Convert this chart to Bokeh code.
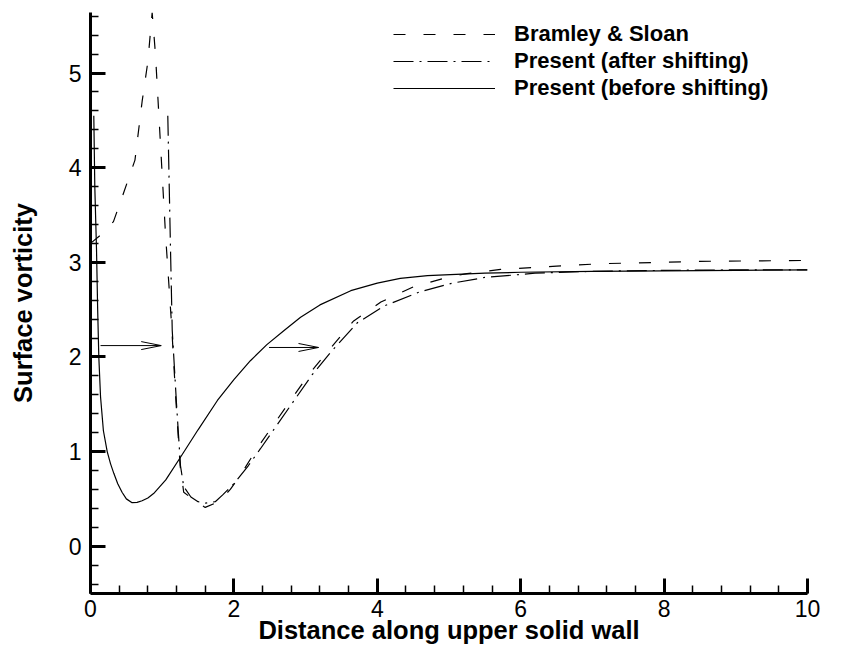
from bokeh.plotting import figure
from bokeh.models import Range1d, SingleIntervalTicker, Legend, LegendItem
from bokeh.embed import file_html
from bokeh.resources import INLINE

# ---- data ----
bramley_x = [0.0, 0.16, 0.32, 0.46, 0.62, 0.72, 0.80, 0.86, 0.906, 0.976, 1.046, 1.13, 1.19, 1.25,
             1.30, 1.44, 1.60, 1.79, 1.95, 2.1, 2.32, 2.55, 2.79, 3.04, 3.30, 3.67, 4.05, 4.5,
             5.0, 5.25, 5.72, 6.5, 7.11, 8.5, 10.0]
bramley_y = [3.2, 3.30, 3.43, 3.73, 4.08, 4.70, 5.12, 5.64, 5.2, 4.25, 3.3, 2.35, 1.55, 0.85,
             0.57, 0.49, 0.41, 0.47, 0.6, 0.76, 1.03, 1.28, 1.54, 1.81, 2.05, 2.38, 2.58, 2.74,
             2.845, 2.88, 2.925, 2.96, 2.985, 3.01, 3.02]

after_x = [1.078, 1.116, 1.14, 1.20, 1.255, 1.30, 1.40, 1.50, 1.60, 1.74, 1.84, 2.0, 2.2, 2.37,
           2.60, 2.84, 3.09, 3.35, 3.72, 4.1, 4.6, 5.05, 5.5, 6.2, 7.0, 8.0, 9.0, 10.0]
after_y = [4.55, 3.13, 2.28, 1.5, 0.85, 0.63, 0.52, 0.47, 0.455, 0.47, 0.54, 0.66, 0.85, 1.03,
           1.28, 1.54, 1.81, 2.05, 2.36, 2.54, 2.69, 2.78, 2.84, 2.885, 2.905, 2.915, 2.92, 2.92]

before_x = [0.046, 0.06, 0.084, 0.10, 0.116, 0.14, 0.18, 0.233, 0.28, 0.325, 0.38, 0.44, 0.50,
            0.58, 0.65, 0.72, 0.80, 0.88, 1.05, 1.255, 1.5, 1.77, 2.0, 2.23, 2.46, 2.7, 2.93,
            3.2, 3.63, 4.0, 4.32, 4.7, 5.02, 5.5, 6.0, 7.0, 8.0, 9.0, 10.0]
before_y = [4.55, 3.8, 3.13, 2.5, 2.0, 1.58, 1.22, 1.0, 0.87, 0.77, 0.66, 0.57, 0.50,
            0.46, 0.463, 0.48, 0.51, 0.556, 0.70, 0.94, 1.23, 1.54, 1.76, 1.96, 2.13, 2.28, 2.42,
            2.55, 2.70, 2.78, 2.83, 2.86, 2.87, 2.885, 2.895, 2.905, 2.91, 2.915, 2.92]

arrow_x0 = [0.14, 2.49]
arrow_x1 = [0.986, 3.18]
arrow_y = [2.12, 2.10]

series_labels = ["Bramley & Sloan", "Present (after shifting)", "Present (before shifting)"]

# ---- layout ----
X0, X1 = 0.0, 10.0
Y0, Y1 = -0.5, 5.64
W, H = 829, 650
ML, MR, MT, MB = 90, 22, 12, 57
FW, FH = W - ML - MR, H - MT - MB

FONT = "Liberation Sans"

p = figure(width=W, height=H, output_backend="svg", toolbar_location=None,
           x_range=Range1d(X0, X1), y_range=Range1d(Y0, Y1),
           min_border_left=ML, min_border_right=MR, min_border_top=MT, min_border_bottom=MB)
p.outline_line_color = None
p.grid.visible = False

p.xaxis.ticker = SingleIntervalTicker(interval=2, num_minor_ticks=5)
p.yaxis.ticker = SingleIntervalTicker(interval=1, num_minor_ticks=5)
for ax in (p.xaxis[0], p.yaxis[0]):
    ax.axis_line_width = 3
    ax.axis_line_color = "black"
    ax.major_tick_in = 15
    ax.major_tick_out = 0
    ax.minor_tick_in = 8
    ax.minor_tick_out = 0
    ax.major_tick_line_width = 3
    ax.minor_tick_line_width = 1.5
    ax.major_tick_line_color = "black"
    ax.minor_tick_line_color = "black"
    ax.major_label_text_font = FONT
    ax.major_label_text_font_size = "23px"
    ax.major_label_text_color = "black"
    ax.axis_label_text_font = FONT
    ax.axis_label_text_font_size = "25.5px"
    ax.axis_label_text_font_style = "bold"
    ax.axis_label_text_color = "black"

p.xaxis.axis_label = "Distance along upper solid wall"
p.yaxis.axis_label = "Surface vorticity"
p.xaxis.major_label_standoff = 6
p.xaxis.axis_label_standoff = -4
p.yaxis.major_label_standoff = 9
p.yaxis.axis_label_standoff = 29

r1 = p.line(bramley_x, bramley_y, line_color="black", line_width=1.2, line_dash="12 18")
r2 = p.line(after_x, after_y, line_color="black", line_width=1.2, line_dash="20 6 2 6")
r3 = p.line(before_x, before_y, line_color="black", line_width=1.2)

# arrows: shaft + open head (head size defined in pixels, converted to data units)
sx = FW / (X1 - X0)
sy = FH / (Y1 - Y0)
head_len = 20 / sx
head_half = 4 / sy
p.segment(arrow_x0, arrow_y, arrow_x1, arrow_y, line_color="black", line_width=1)
hx = [x - head_len for x in arrow_x1]
p.segment(hx, [y + head_half for y in arrow_y], arrow_x1, arrow_y, line_color="black", line_width=1)
p.segment(hx, [y - head_half for y in arrow_y], arrow_x1, arrow_y, line_color="black", line_width=1)

legend = Legend(items=[LegendItem(label=series_labels[0], renderers=[r1]),
                       LegendItem(label=series_labels[1], renderers=[r2]),
                       LegendItem(label=series_labels[2], renderers=[r3])],
                location=(303, FH - 89))
legend.padding = 0
legend.margin = 0
legend.border_line_color = None
legend.background_fill_alpha = 0
legend.glyph_width = 102
legend.glyph_height = 20
legend.label_height = 20
legend.label_standoff = 19
legend.spacing = 1
legend.label_text_font = FONT
legend.label_text_font_size = "22px"
legend.label_text_font_style = "bold"
legend.label_text_color = "black"
p.add_layout(legend)

open("out.html", "w").write(file_html(p, INLINE))
